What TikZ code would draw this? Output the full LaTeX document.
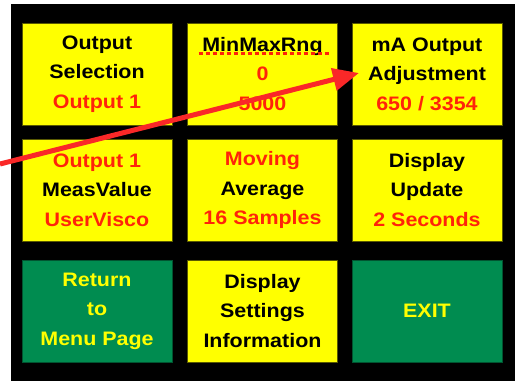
\documentclass[tikz,border=0pt]{standalone}
\usepackage{fontspec}
\setmainfont{Liberation Sans}
\newfontfamily\lcd{Liberation Sans}[FakeStretch=1.1]
\usetikzlibrary{arrows.meta}
\definecolor{lcdyellow}{RGB}{255,255,0}
\definecolor{lcdgreen}{RGB}{0,140,80}
\definecolor{lcdred}{RGB}{255,35,10}
\definecolor{arrred}{RGB}{250,40,40}
\newcommand\rv[1]{\textcolor{lcdred}{#1}}
\begin{document}
\begin{tikzpicture}[x=1pt,y=-1pt,
  key/.style={rectangle, minimum width=150pt, minimum height=102pt, inner sep=0pt,
    align=center, font=\lcd\bfseries\fontsize{19.5}{29.5}\selectfont, line width=1pt},
  ykey/.style={key, fill=lcdyellow, draw=black!65!lcdyellow, text=black},
  gkey/.style={key, fill=lcdgreen, draw=black!40!lcdgreen, text=lcdyellow},
  squiggle/.style={lcdred, line width=3pt, dash pattern=on 4pt off 3pt},
  pointer/.style={arrred, line width=5pt, -{Triangle[length=26pt,width=22pt]}}]
\useasboundingbox (0,0) rectangle (515,381);
\fill[black] (11,4) rectangle (515,381);
% row 1
\node[ykey] (os) at (97,74) {Output\\Selection\\\rv{Output 1}};
\node[ykey] (mm) at (262.5,74) {MinMaxRng\\\rv{0}\\\rv{5000}};
\node[ykey] (ma) at (427,74) {mA Output\\Adjustment\\\rv{650 / 3354}};
% row 2
\node[ykey] (mv) at (97,190) {\rv{Output 1}\\MeasValue\\\rv{UserVisco}};
\node[ykey] (av) at (262.5,190) {\rv{Moving}\\Average\\\rv{16 Samples}};
\node[ykey] (du) at (427,190) {Display\\Update\\\rv{2 Seconds}};
% row 3
\node[gkey] (rt) at (97,311) {Return\\to\\Menu Page};
\node[ykey] (ds) at (262.5,311) {Display\\Settings\\Information};
\node[gkey] (ex) at (427,311) {EXIT};
% spell-check underline
\draw[squiggle] ([shift={(-64,-21)}]mm.center) -- ([shift={(66,-21)}]mm.center);
% red pointer arrow
\coordinate (arrS) at (0,164);
\coordinate (arrE) at (359,73);
\draw[pointer] (arrS) -- (arrE);
\end{tikzpicture}
\end{document}
